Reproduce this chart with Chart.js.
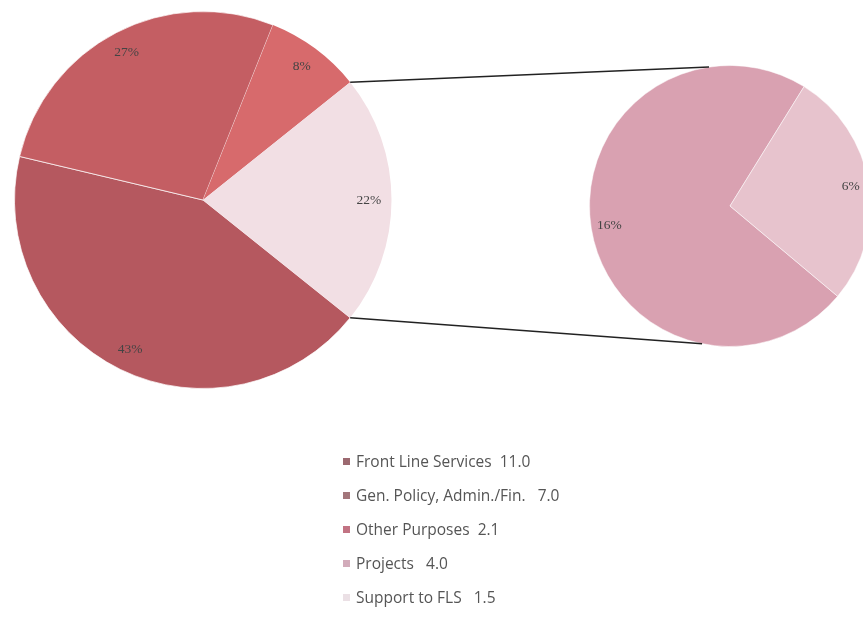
<!DOCTYPE html>
<html>
<head>
<meta charset="utf-8">
<script src="https://cdn.jsdelivr.net/npm/chart.js@4"></script>
<style>
html,body{margin:0;padding:0;background:#fff;overflow:hidden;}
#wrap{position:relative;width:863px;height:623px;overflow:hidden;}
#c1{position:absolute;left:3px;top:0px;}
#c2{position:absolute;left:580px;top:56px;}
#ov{position:absolute;left:0;top:0;pointer-events:none;}
#legend{position:absolute;left:343px;top:450px;font-family:"Open Sans","DejaVu Sans",sans-serif;font-size:15.5px;color:#555;}
#legend div{height:34px;line-height:22px;white-space:pre;}
#legend span.sw{display:inline-block;width:7px;height:7px;margin-right:6px;vertical-align:2px;}
</style>
</head>
<body>
<div id="wrap">
<canvas id="c1" width="400" height="400"></canvas>
<canvas id="c2" width="300" height="300"></canvas>
<canvas id="ov" width="863" height="623"></canvas>
<div id="legend"></div>
</div>
<script>
// Data
const mainLabels = ["Front Line Services", "Gen. Policy, Admin./Fin.", "Other Purposes"];
const mainValues = [11.0, 7.0, 2.1];
const secLabels = ["Projects", "Support to FLS"];
const secValues = [4.0, 1.5];
const legendText = ["Front Line Services  11.0", "Gen. Policy, Admin./Fin.   7.0", "Other Purposes  2.1", "Projects   4.0", "Support to FLS   1.5"];

const mainColors = ["#b5585f", "#c45e63", "#d76a6c", "#f2dfe4"];
const secColors = ["#d9a1b1", "#e7c3cd"];
const legendColors = ["#9c6970", "#a3767b", "#c27383", "#d2abba", "#ebe0e5"];

const total = mainValues.reduce((a,b)=>a+b,0) + secValues.reduce((a,b)=>a+b,0);
const pct = v => Math.round(v/total*100);
const secSum = secValues.reduce((a,b)=>a+b,0);
const mainPct = mainValues.map(pct).concat([secValues.map(pct).reduce((a,b)=>a+b,0)]);
const secPct = secValues.map(pct);

// rotation so that the "other" group is centered on the right
const mainAll = mainValues.concat([secSum]);
const mainTot = mainAll.reduce((a,b)=>a+b,0);
const otherSpanDeg = secSum/mainTot*360;
const mainRotation = 90 + otherSpanDeg/2;

const labelPlugin = {
  id: 'pctLabels',
  afterDatasetsDraw(chart, args, opts) {
    const ctx = chart.ctx;
    const meta = chart.getDatasetMeta(0);
    ctx.save();
    ctx.font = '13.5px "Liberation Serif", "DejaVu Serif", serif';
    ctx.fillStyle = '#444';
    ctx.textAlign = 'center';
    ctx.textBaseline = 'middle';
    meta.data.forEach((arc, i) => {
      const p = arc.getProps(['x','y','startAngle','endAngle','outerRadius'], true);
      const mid = (p.startAngle + p.endAngle)/2;
      const r = p.outerRadius * opts.ratio;
      ctx.fillText(opts.texts[i] + '%', p.x + Math.cos(mid)*r, p.y + Math.sin(mid)*r);
    });
    ctx.restore();
  }
};

const c1 = new Chart(document.getElementById('c1'), {
  type: 'pie',
  data: {
    labels: mainLabels.concat(["Other"]),
    datasets: [{
      data: mainAll,
      backgroundColor: mainColors,
      borderColor: ['rgba(255,255,255,0.7)','rgba(255,255,255,0.7)','rgba(255,255,255,0)','rgba(255,255,255,0)'],
      borderWidth: 1
    }]
  },
  options: {
    responsive: false,
    animation: false,
    rotation: mainRotation,
    layout: { padding: 11 },
    plugins: { legend: { display: false }, tooltip: { enabled: false },
      pctLabels: { texts: mainPct, ratio: 0.88 } }
  },
  plugins: [labelPlugin]
});

const c2 = new Chart(document.getElementById('c2'), {
  type: 'pie',
  data: {
    labels: secLabels,
    datasets: [{
      data: secValues,
      backgroundColor: secColors,
      borderColor: 'rgba(255,255,255,0.5)',
      borderWidth: 1
    }]
  },
  options: {
    responsive: false,
    animation: false,
    rotation: 130,
    layout: { padding: 9 },
    plugins: { legend: { display: false }, tooltip: { enabled: false },
      pctLabels: { texts: secPct, ratio: 0.87 } }
  },
  plugins: [labelPlugin]
});

// connector lines
(function(){
  const ov = document.getElementById('ov').getContext('2d');
  const m = c1.getDatasetMeta(0).data[3].getProps(['x','y','startAngle','endAngle','outerRadius'], true);
  const s = c2.getDatasetMeta(0).data[0].getProps(['x','y','outerRadius'], true);
  const o1x = 3, o1y = 0, o2x = 580, o2y = 56;
  const a1 = [o1x + m.x + Math.cos(m.startAngle)*m.outerRadius, o1y + m.y + Math.sin(m.startAngle)*m.outerRadius];
  const a2 = [o1x + m.x + Math.cos(m.endAngle)*m.outerRadius, o1y + m.y + Math.sin(m.endAngle)*m.outerRadius];
  const angTop = -Math.PI/2 - 0.15, angBot = Math.PI/2 + 0.2;
  const b1 = [o2x + s.x + Math.cos(angTop)*s.outerRadius, o2y + s.y + Math.sin(angTop)*s.outerRadius];
  const b2 = [o2x + s.x + Math.cos(angBot)*s.outerRadius, o2y + s.y + Math.sin(angBot)*s.outerRadius];
  ov.strokeStyle = '#222';
  ov.lineWidth = 1.5;
  ov.beginPath(); ov.moveTo(a1[0], a1[1]); ov.lineTo(b1[0], b1[1]); ov.stroke();
  ov.beginPath(); ov.moveTo(a2[0], a2[1]); ov.lineTo(b2[0], b2[1]); ov.stroke();
})();

// legend
const lg = document.getElementById('legend');
legendText.forEach((t, i) => {
  const d = document.createElement('div');
  const sw = document.createElement('span');
  sw.className = 'sw';
  sw.style.background = legendColors[i];
  d.appendChild(sw);
  d.appendChild(document.createTextNode(t));
  lg.appendChild(d);
});
</script>
</body>
</html>
